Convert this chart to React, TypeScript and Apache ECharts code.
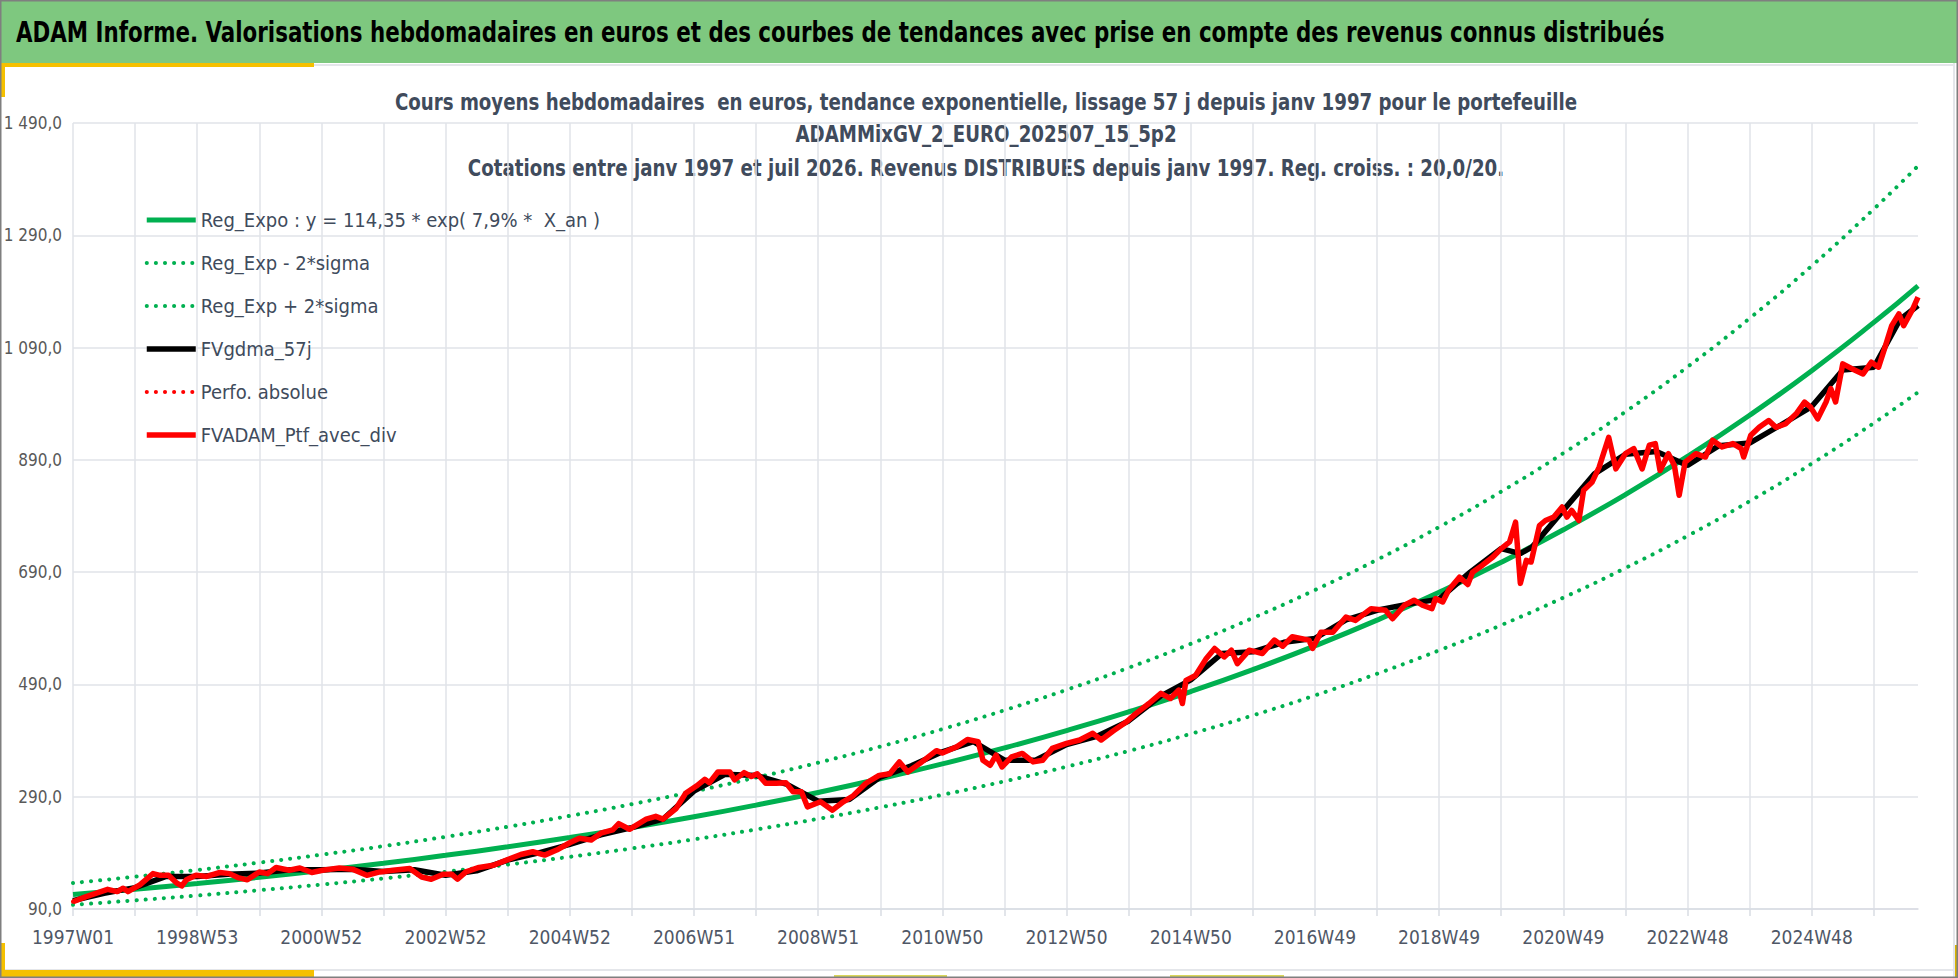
import { useEffect, useRef } from 'react';
import * as echarts from 'echarts';

const FONT = "'Liberation Sans Narrow', 'DejaVu Sans Condensed', 'Open Sans', sans-serif";
const TEXT_COLOR = '#404b5c';
const GRID_COLOR = '#e0e3e9';
const GREEN = '#00b050';

const HEADER = 'ADAM Informe. Valorisations hebdomadaires en euros et des courbes de tendances avec prise en compte des revenus connus distribués';
const TITLE_LINES = [
  'Cours moyens hebdomadaires  en euros, tendance exponentielle, lissage 57 j depuis janv 1997 pour le portefeuille',
  'ADAMMixGV_2_EURO_202507_15_5p2',
  'Cotations entre janv 1997 et juil 2026. Revenus DISTRIBUES depuis janv 1997. Reg. croiss. : 20,0/20.',
];

const SERIES_NAMES = [
  'Reg_Expo : y = 114,35 * exp( 7,9% *  X_an )',
  'Reg_Exp - 2*sigma',
  'Reg_Exp + 2*sigma',
  'FVgdma_57j',
  'Perfo. absolue',
  'FVADAM_Ptf_avec_div',
];

// weekly categories 1997W01 .. 2026W33 (ISO years with 53 weeks)
const FIRST_YEAR = 1997;
const WEEK_COUNT = 1546;
const LONG_YEARS = [1998, 2004, 2009, 2015, 2020, 2026];

const yTicks = [90, 290, 490, 690, 890, 1090, 1290, 1490];

// trend curves, read once a year
const trendWeeks = [
  0, 52, 104, 156, 208, 260, 312, 364, 416, 468, 520, 572, 624, 676, 728, 780,
  832, 884, 936, 988, 1040, 1092, 1144, 1196, 1248, 1300, 1352, 1404, 1456, 1508, 1545,
];
const regExpo = [
  115.7, 125.2, 135.4, 146.5, 158.5, 171.5, 185.6, 200.8, 217.2, 235.0, 254.2, 275.1, 297.6, 322.0, 348.4, 376.9,
  407.8, 441.2, 477.3, 516.4, 558.7, 604.5, 654.0, 707.5, 765.5, 828.2, 896.1, 969.5, 1048.9, 1134.8, 1200.0,
];
const regLow = [
  97.4, 105.4, 114.0, 123.4, 133.5, 144.4, 156.3, 169.1, 182.9, 197.9, 214.0, 231.6, 250.6, 271.1, 293.4, 317.4,
  343.4, 371.5, 401.9, 434.8, 470.4, 509.0, 550.7, 595.7, 644.6, 697.4, 754.5, 816.3, 883.2, 955.5, 1010.4,
];
const regHigh = [
  136.3, 147.5, 159.5, 172.6, 186.7, 202.0, 218.6, 236.5, 255.9, 276.8, 299.5, 324.1, 350.6, 379.3, 410.4, 444.0,
  480.4, 519.7, 562.3, 608.3, 658.2, 712.1, 770.4, 833.4, 901.8, 975.6, 1055.6, 1142.1, 1235.6, 1336.8, 1413.6,
];

// portfolio value with dividends
const ptfWeeks = [
  0, 11, 29, 37, 42, 46, 56, 67, 73, 80, 87, 91, 95, 103, 112, 123, 131, 138, 146, 156,
  163, 170, 181, 190, 200, 209, 223, 234, 246, 257, 268, 282, 292, 300, 310, 317, 322, 329, 340, 352,
  363, 375, 385, 395, 405, 416, 424, 434, 442, 452, 457, 466, 480, 488, 494, 505, 513, 522, 529, 533,
  540, 550, 554, 562, 568, 573, 580, 589, 597, 603, 610, 615, 626, 636, 645, 653, 664, 675, 684, 692,
  699, 709, 723, 728, 740, 749, 758, 762, 768, 773, 778, 786, 795, 804, 812, 820, 832, 843, 854, 861,
  871, 882, 890, 901, 911, 919, 926, 929, 932, 940, 949, 956, 964, 970, 975, 985, 996, 1006, 1013, 1021,
  1035, 1038, 1045, 1055, 1066, 1074, 1087, 1099, 1105, 1115, 1123, 1130, 1138, 1141, 1147, 1152, 1161, 1168, 1172, 1180,
  1189, 1196, 1203, 1208, 1212, 1217, 1221, 1228, 1233, 1240, 1247, 1251, 1255, 1261, 1265, 1272, 1278, 1286, 1292, 1300,
  1307, 1314, 1320, 1325, 1329, 1336, 1341, 1345, 1350, 1359, 1367, 1373, 1381, 1390, 1397, 1399, 1405, 1412, 1420, 1426,
  1434, 1443, 1450, 1455, 1461, 1468, 1472, 1476, 1482, 1490, 1499, 1506, 1512, 1517, 1523, 1529, 1533, 1540, 1545,
];
const ptfValues = [
  103, 112, 125, 121, 127, 121, 133, 153, 150, 150, 136, 131, 142, 150, 148, 155, 153, 146, 142, 156,
  153, 164, 159, 163, 155, 159, 163, 161, 150, 156, 159, 162, 147, 143, 152, 152, 143, 156, 164, 168,
  177, 187, 192, 186, 195, 208, 216, 213, 225, 231, 242, 232, 250, 255, 250, 269, 296, 309, 321, 315,
  334, 334, 320, 333, 326, 331, 314, 314, 315, 299, 299, 272, 281, 266, 281, 291, 314, 328, 331, 352,
  334, 349, 372, 368, 379, 392, 388, 355, 346, 364, 343, 361, 367, 352, 355, 376, 385, 391, 403, 391,
  407, 423, 438, 456, 474, 465, 480, 456, 497, 506, 536, 554, 539, 551, 527, 551, 545, 569, 558, 575,
  569, 554, 583, 583, 610, 604, 625, 622, 607, 631, 640, 631, 625, 643, 637, 658, 681, 668, 690, 702,
  717, 732, 744, 779, 670, 711, 708, 773, 782, 788, 806, 788, 800, 782, 836, 850, 877, 930, 874, 901,
  910, 874, 916, 919, 871, 901, 880, 827, 886, 901, 895, 925, 913, 919, 910, 895, 934, 948, 960, 948,
  954, 972, 993, 984, 963, 993, 1017, 993, 1061, 1052, 1043, 1064, 1055, 1088, 1129, 1150, 1129, 1156, 1180,
];

// 57-day moving average, read every half year
const gdmaWeeks = [
  0, 26, 52, 78, 104, 130, 156, 182, 208, 234, 260, 286, 312, 338, 364, 390, 416, 442, 468, 494,
  520, 546, 572, 598, 624, 650, 676, 702, 728, 754, 780, 806, 832, 858, 884, 910, 936, 962, 988, 1014,
  1040, 1066, 1092, 1118, 1144, 1170, 1196, 1212, 1222, 1248, 1274, 1300, 1326, 1352, 1378, 1404, 1430, 1456, 1482, 1508,
  1530, 1545,
];
const gdmaValues = [
  105, 118, 128, 148, 148, 152, 154, 160, 160, 161, 157, 160, 150, 158, 177, 190, 205, 222, 235, 250,
  300, 330, 328, 312, 282, 285, 325, 345, 370, 388, 355, 355, 383, 398, 425, 468, 498, 545, 548, 565,
  572, 605, 622, 633, 642, 690, 732, 723, 735, 800, 865, 900, 905, 880, 915, 920, 952, 985, 1050, 1055,
  1140, 1165,
];

function buildWeekLabels(): string[] {
  const labels: string[] = [];
  let year = FIRST_YEAR;
  while (labels.length < WEEK_COUNT) {
    const n = LONG_YEARS.includes(year) ? 53 : 52;
    for (let w = 1; w <= n && labels.length < WEEK_COUNT; w++) {
      labels.push(`${year}W${String(w).padStart(2, '0')}`);
    }
    year++;
  }
  return labels;
}

const pairs = (xs: number[], ys: number[]) => xs.map((x, i) => [x, ys[i]]);

const frValue = (v: number) => {
  const [i, d] = v.toFixed(1).split('.');
  return `${i.replace(/\B(?=(\d{3})+$)/g, ' ')},${d}`;
};

const dotted = (color: string) => ({ color, width: 4, type: [0.1, 9], cap: 'round' as const });

export default function App() {
  const chartRef = useRef<HTMLDivElement>(null);

  useEffect(() => {
    if (!chartRef.current) return;
    const chart = echarts.init(chartRef.current, undefined, { renderer: 'svg' });

    const weeks = buildWeekLabels();
    const common = { type: 'line' as const, symbol: 'none', showSymbol: false, silent: true };

    const option: echarts.EChartsOption = {
      animation: false,
      backgroundColor: '#ffffff',
      grid: { left: 73, right: 40, top: 123, bottom: 69 },
      graphic: [
        { type: 'rect', shape: { x: 0, y: 0, width: 1958, height: 63 }, style: { fill: '#7ec87f' }, silent: true },
        {
          type: 'text',
          x: 16,
          y: 32,
          scaleX: 0.82,
          style: {
            text: HEADER, x: 0, y: 0, fill: '#000000',
            font: `bold 29px ${FONT}`, verticalAlign: 'middle', textVerticalAlign: 'middle',
          } as any,
          silent: true,
        },
        { type: 'rect', shape: { x: 0, y: 64, width: 1954, height: 2 }, style: { fill: '#e4e6ea' }, silent: true },
        { type: 'rect', shape: { x: 0, y: 63, width: 314, height: 4 }, style: { fill: '#f5c000' }, silent: true },
        { type: 'rect', shape: { x: 0, y: 63, width: 5, height: 34 }, style: { fill: '#f5c000' }, silent: true },
        { type: 'rect', shape: { x: 0, y: 969, width: 1956, height: 2 }, style: { fill: '#e4e6ea' }, silent: true },
        { type: 'rect', shape: { x: 0, y: 943, width: 5, height: 35 }, style: { fill: '#f5c000' }, silent: true },
        { type: 'rect', shape: { x: 0, y: 970, width: 314, height: 7 }, style: { fill: '#f5c000' }, silent: true },
        { type: 'rect', shape: { x: 834, y: 975, width: 113, height: 3 }, style: { fill: '#d9d65a' }, silent: true },
        { type: 'rect', shape: { x: 1170, y: 975, width: 114, height: 3 }, style: { fill: '#d9d65a' }, silent: true },
        { type: 'rect', shape: { x: 1953, y: 63, width: 2, height: 915 }, style: { fill: '#e4e6ea' }, silent: true },
        { type: 'rect', shape: { x: 1955, y: 945, width: 3, height: 33 }, style: { fill: '#d8b200' }, silent: true },
        {
          type: 'rect', shape: { x: 0.75, y: 0.75, width: 1956.5, height: 976.5 },
          style: { fill: 'none', stroke: '#7f7f7f', lineWidth: 1.5 }, silent: true,
        },
        ...TITLE_LINES.map((t, i) => ({
          type: 'text' as const,
          x: 986,
          y: [102, 134, 168][i],
          scaleX: 0.88,
          style: {
            text: t, x: 0, y: 0, fill: TEXT_COLOR,
            font: `bold 23px ${FONT}`, textAlign: 'center', verticalAlign: 'middle', textVerticalAlign: 'middle',
          } as any,
          silent: true,
        })),
      ],
      legend: {
        orient: 'vertical',
        left: 144,
        top: 208,
        itemWidth: 49,
        itemHeight: 14,
        itemGap: 19,
        padding: 0,
        selectedMode: false,
        data: SERIES_NAMES,
        itemStyle: { opacity: 0 },
        lineStyle: { width: 'inherit' } as any,
        textStyle: { fontFamily: FONT, fontSize: 20, color: TEXT_COLOR, lineHeight: 24 },
      },
      xAxis: {
        type: 'category',
        data: weeks,
        boundaryGap: false,
        axisLine: { lineStyle: { color: '#d9dce3', width: 1.5 } },
        axisTick: { interval: 51, length: 7, lineStyle: { color: '#d9dce3', width: 1.5 } },
        axisLabel: { interval: 103, color: '#4f5766', fontSize: 19, fontFamily: FONT, margin: 18 },
        splitLine: { show: true, interval: 51, lineStyle: { color: GRID_COLOR, width: 1.5 } },
      },
      yAxis: {
        type: 'value',
        min: 90,
        max: 1490,
        axisLine: { show: false },
        axisTick: { show: false, customValues: yTicks } as any,
        axisLabel: {
          customValues: yTicks,
          formatter: (v: number) => frValue(v),
          color: '#595959',
          fontSize: 17,
          fontFamily: FONT,
          margin: 11,
        } as any,
        splitLine: { show: true, lineStyle: { color: GRID_COLOR, width: 1.5 } },
      },
      series: [
        {
          ...common, name: SERIES_NAMES[0], smooth: true,
          data: pairs(trendWeeks, regExpo),
          lineStyle: { color: GREEN, width: 5 },
        },
        {
          ...common, name: SERIES_NAMES[1], smooth: true,
          data: pairs(trendWeeks, regLow),
          lineStyle: dotted(GREEN),
        },
        {
          ...common, name: SERIES_NAMES[2], smooth: true,
          data: pairs(trendWeeks, regHigh),
          lineStyle: dotted(GREEN),
        },
        {
          ...common, name: SERIES_NAMES[3],
          data: pairs(gdmaWeeks, gdmaValues),
          lineStyle: { color: '#000000', width: 5.5 },
        },
        {
          ...common, name: SERIES_NAMES[4],
          data: pairs(ptfWeeks, ptfValues),
          lineStyle: dotted('#ff0000'),
        },
        {
          ...common, name: SERIES_NAMES[5],
          data: pairs(ptfWeeks, ptfValues),
          lineStyle: { color: '#ff0000', width: 5.5, join: 'round' },
        },
      ] as any,
    };

    chart.setOption(option);

    const handleResize = () => chart.resize();
    window.addEventListener('resize', handleResize);

    return () => {
      window.removeEventListener('resize', handleResize);
      chart.dispose();
    };
  }, []);

  return (
    <div
      ref={chartRef}
      style={{ position: 'absolute', left: 0, top: 0, width: 1958, height: 978 }}
    />
  );
}
